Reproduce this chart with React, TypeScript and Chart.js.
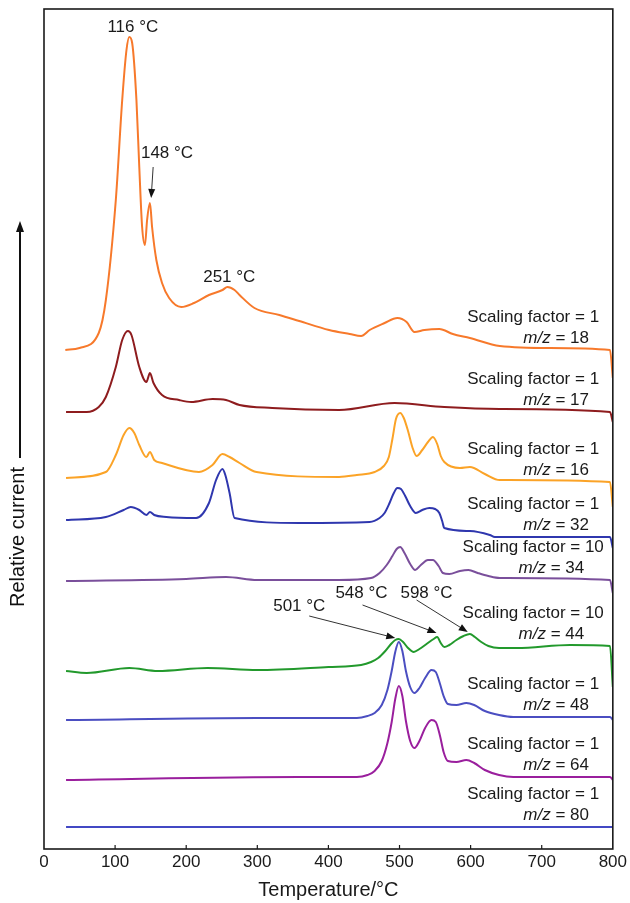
import React, { useEffect, useRef } from "react";
import { Chart, registerables } from "chart.js";

Chart.register(...registerables);

const FONT = '"Liberation Sans", Arial, Helvetica, sans-serif';

// x axis ticks (°C)
const xTickValues = [0, 100, 200, 300, 400, 500, 600, 700, 800];

// ---- series data (temperature °C, relative current incl. stacking offset, arbitrary units) ----
const t18 = [30, 50, 77, 87, 101, 110, 116, 120, 124, 130, 134, 138, 142, 145, 149, 152, 158, 166, 176, 193, 211, 232, 251, 258, 268, 275, 296, 331, 359, 401, 430, 446, 458, 479, 497, 510, 521, 535, 556, 575, 599, 641, 711, 796, 800];
const v18 = [499, 501, 516, 549, 649, 749, 799, 812, 806, 749, 682, 622, 604, 629, 646, 622, 589, 566, 551, 542, 546, 554, 559, 562, 559, 554, 541, 534, 528, 519, 515, 513, 519, 526, 531, 527, 517, 519, 520, 515, 511, 503, 501, 499, 471];

const t17 = [31, 60, 77, 87, 101, 110, 118, 123, 134, 144, 149, 154, 166, 190, 207, 237, 256, 275, 321, 415, 493, 563, 641, 796, 800];
const v17 = [437, 437, 442, 452, 482, 509, 518, 514, 482, 467, 476, 466, 454, 449, 447, 450, 449, 444, 441, 439, 446, 442, 440, 437, 427];

const t16 = [31, 87, 101, 112, 120, 127, 134, 144, 149, 155, 166, 218, 237, 251, 261, 275, 299, 415, 440, 465, 478, 485, 490, 495, 501, 506, 512, 518, 524, 532, 540, 547, 553, 558, 563, 585, 599, 620, 641, 796, 800];
const v16 = [371, 377, 394, 414, 421, 416, 404, 392, 397, 389, 386, 377, 384, 395, 392, 386, 377, 372, 374, 377, 383, 392, 410, 430, 436, 431, 418, 402, 393, 399, 407, 412, 405, 393, 387, 381, 382, 375, 369, 367, 342];

const t32 = [31, 87, 112, 122, 134, 144, 149, 155, 172, 214, 232, 242, 251, 255, 261, 268, 359, 458, 472, 479, 486, 492, 497, 502, 508, 515, 523, 532, 542, 550, 556, 560, 563, 599, 627, 634, 796, 800];
const v32 = [329, 332, 339, 342, 339, 334, 337, 334, 332, 331, 346, 369, 380, 374, 356, 331, 326, 327, 331, 336, 346, 356, 361, 360, 353, 343, 336, 339, 341, 340, 336, 328, 321, 318, 314, 312, 312, 301];

const t34 = [31, 200, 256, 300, 415, 460, 472, 482, 490, 496, 501, 507, 515, 522, 530, 540, 547, 555, 561, 570, 585, 597, 610, 625, 641, 796, 800];
const v34 = [268, 270, 272, 269, 269, 271, 276, 284, 293, 300, 302, 296, 285, 279, 284, 289, 289, 283, 276, 275, 278, 279, 276, 273, 271, 269, 256];

const t44 = [31, 60, 120, 160, 230, 300, 400, 446, 460, 470, 480, 488, 494, 499, 505, 512, 520, 528, 538, 548, 553, 558, 563, 570, 580, 590, 599, 606, 615, 625, 640, 665, 740, 796, 800];
const v44 = [178, 176, 181, 178, 181, 179, 182, 184, 187, 191, 198, 205, 209, 210, 207, 201, 197, 200, 205, 210, 212, 206, 202, 204, 209, 213, 215, 212, 207, 203, 201, 201, 204, 203, 162];

const t48 = [31, 300, 440, 455, 465, 475, 483, 489, 494, 499, 504, 509, 515, 521, 528, 536, 545, 551, 557, 562, 568, 580, 594, 605, 620, 640, 660, 796, 800];
const v48 = [129, 131, 131, 133, 136, 144, 159, 178, 197, 207, 198, 178, 162, 156, 161, 171, 179, 177, 165, 153, 145, 144, 146, 144, 138, 134, 132, 132, 129];

const t64 = [31, 359, 440, 455, 465, 475, 483, 489, 494, 499, 504, 509, 515, 521, 528, 536, 545, 551, 557, 562, 568, 580, 594, 605, 620, 640, 660, 796, 800];
const v64 = [69, 72, 72, 74, 78, 88, 106, 127, 150, 163, 153, 128, 108, 101, 108, 121, 129, 127, 113, 97, 88, 87, 89, 86, 79, 74, 72, 72, 69];

const t80 = [31, 400, 800];
const v80 = [22, 22, 22];

const massNumbers = ["18", "17", "16", "32", "34", "44", "48", "64", "80"];
const scalingFactors = ["1", "1", "1", "1", "10", "10", "1", "1", "1"];
const seriesT = [t18, t17, t16, t32, t34, t44, t48, t64, t80];
const seriesV = [v18, v17, v16, v32, v34, v44, v48, v64, v80];
const seriesColors = ["#F7792B", "#8E1C1E", "#FBA327", "#2F37AE", "#7A4F9B", "#22992C", "#4B4EC1", "#9A1F9D", "#4348C4"];

// peak annotations: text, label position (T, value), optional arrow from -> to (T, value)
const peakLabels = ["116 °C", "148 °C", "251 °C", "501 °C", "548 °C", "598 °C"];
const peakLabelPos = [[125, 822], [173, 696], [260.6, 572], [359, 243], [446.5, 256], [538, 256]];
const peakArrows: (number[] | null)[] = [null, [153.5, 682, 150.7, 651], null, [373, 233, 494, 211], [448, 244, 552, 216], [524, 249, 596, 217]];

const labelCenterT = 688;

function drawArrowHead(ctx: CanvasRenderingContext2D, x1: number, y1: number, x2: number, y2: number, len: number, w: number) {
  const a = Math.atan2(y2 - y1, x2 - x1);
  ctx.beginPath();
  ctx.moveTo(x2, y2);
  ctx.lineTo(x2 - len * Math.cos(a) + w * Math.sin(a), y2 - len * Math.sin(a) - w * Math.cos(a));
  ctx.lineTo(x2 - len * Math.cos(a) - w * Math.sin(a), y2 - len * Math.sin(a) + w * Math.cos(a));
  ctx.closePath();
  ctx.fill();
}

const decorPlugin = {
  id: "decor",
  beforeDraw(chart: any) {
    const ctx = chart.ctx;
    ctx.save();
    ctx.fillStyle = "#ffffff";
    ctx.fillRect(0, 0, chart.width, chart.height);
    ctx.restore();
  },
  afterDraw(chart: any) {
    const ctx: CanvasRenderingContext2D = chart.ctx;
    const { left, right, top, bottom } = chart.chartArea;
    const xs = chart.scales.x;
    const ys = chart.scales.y;
    ctx.save();
    // frame
    ctx.strokeStyle = "#1a1a1a";
    ctx.lineWidth = 1.6;
    ctx.strokeRect(left, top, right - left, bottom - top);
    // inward ticks
    ctx.lineWidth = 1.2;
    xTickValues.forEach((v) => {
      if (v === 0 || v === 800) return;
      const px = xs.getPixelForValue(v);
      ctx.beginPath();
      ctx.moveTo(px, bottom);
      ctx.lineTo(px, bottom - 4);
      ctx.stroke();
    });
    // y title with arrow
    ctx.fillStyle = "#111";
    ctx.save();
    ctx.translate(18, 537);
    ctx.rotate(-Math.PI / 2);
    ctx.font = `20px ${FONT}`;
    ctx.textAlign = "center";
    ctx.textBaseline = "middle";
    ctx.fillText("Relative current", 0, 0);
    ctx.restore();
    ctx.strokeStyle = "#111";
    ctx.lineWidth = 2;
    ctx.beginPath();
    ctx.moveTo(20, 458);
    ctx.lineTo(20, 230);
    ctx.stroke();
    drawArrowHead(ctx, 20, 458, 20, 221, 11, 4);

    // peak annotations
    ctx.font = `17px ${FONT}`;
    ctx.textAlign = "center";
    ctx.textBaseline = "middle";
    ctx.fillStyle = "#1a1a1a";
    peakLabels.forEach((txt, i) => {
      const [t, v] = peakLabelPos[i];
      ctx.fillText(txt, xs.getPixelForValue(t), ys.getPixelForValue(v));
      const ar = peakArrows[i];
      if (ar) {
        const x1 = xs.getPixelForValue(ar[0]);
        const y1 = ys.getPixelForValue(ar[1]);
        const x2 = xs.getPixelForValue(ar[2]);
        const y2 = ys.getPixelForValue(ar[3]);
        ctx.strokeStyle = "#333";
        ctx.lineWidth = 1;
        ctx.beginPath();
        ctx.moveTo(x1, y1);
        const a = Math.atan2(y2 - y1, x2 - x1);
        ctx.lineTo(x2 - 6 * Math.cos(a), y2 - 6 * Math.sin(a));
        ctx.stroke();
        ctx.fillStyle = "#111";
        drawArrowHead(ctx, x1, y1, x2, y2, 9, 3.5);
        ctx.fillStyle = "#1a1a1a";
      }
    });

    // series labels
    const cx = xs.getPixelForValue(labelCenterT);
    massNumbers.forEach((mz, i) => {
      const vals = seriesV[i];
      const baseY = ys.getPixelForValue(vals[vals.length - 2]);
      ctx.font = `17px ${FONT}`;
      ctx.textAlign = "center";
      ctx.textBaseline = "middle";
      const sf = `Scaling factor = ${scalingFactors[i]}`;
      const sfw = ctx.measureText(sf).width;
      ctx.fillText(sf, cx, baseY - 33);
      const lx = cx - sfw / 2 + 56;
      ctx.textAlign = "left";
      ctx.font = `italic 17px ${FONT}`;
      ctx.fillText("m/z", lx, baseY - 12);
      const iw = ctx.measureText("m/z").width;
      ctx.font = `17px ${FONT}`;
      ctx.fillText(` = ${mz}`, lx + iw, baseY - 12);
    });
    ctx.restore();
  },
};

export default function App() {
  const ref = useRef<HTMLCanvasElement | null>(null);
  useEffect(() => {
    if (!ref.current) return;
    const datasets = seriesT.map((ts, i) => ({
      label: `m/z = ${massNumbers[i]}`,
      data: ts.map((t, j) => ({ x: t, y: seriesV[i][j] })),
      borderColor: seriesColors[i],
      backgroundColor: seriesColors[i],
      borderWidth: 2,
      pointRadius: 0,
      fill: false,
      cubicInterpolationMode: "monotone" as const,
    }));
    const chart = new Chart(ref.current, {
      type: "line",
      data: { datasets },
      options: {
        animation: false,
        responsive: false,
        maintainAspectRatio: false,
        layout: { padding: { left: 44, right: 17, top: 9, bottom: 0 } },
        plugins: { legend: { display: false }, tooltip: { enabled: false } },
        scales: {
          x: {
            type: "linear",
            min: 0,
            max: 800,
            afterBuildTicks: (s: any) => {
              s.ticks = xTickValues.map((v) => ({ value: v }));
            },
            afterFit: (s: any) => {
              s.height = 54;
            },
            ticks: { font: { family: FONT, size: 17 }, color: "#1a1a1a", padding: 3, maxRotation: 0 },
            grid: { display: false, drawTicks: false },
            border: { display: false },
            title: {
              display: true,
              text: "Temperature/°C",
              font: { family: FONT, size: 20 },
              color: "#1a1a1a",
              padding: { top: 0, bottom: 1 },
            },
          },
          y: {
            type: "linear",
            display: false,
            min: 0,
            max: 840,
          },
        },
      },
      plugins: [decorPlugin],
    });
    return () => chart.destroy();
  }, []);
  return (
    <div style={{ position: "absolute", left: 0, top: 0, width: 630, height: 903, background: "#fff" }}>
      <canvas ref={ref} width={630} height={903} style={{ width: 630, height: 903, display: "block" }} />
    </div>
  );
}
